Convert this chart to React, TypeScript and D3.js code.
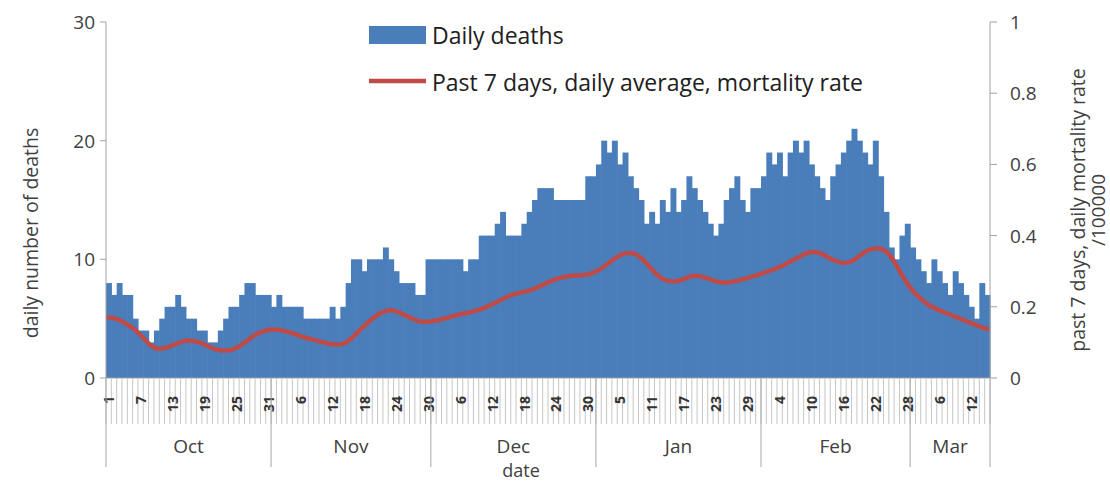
import * as d3 from 'd3';

// daily deaths per month (Oct 1 -> Mar 15)
const octDeaths = [8, 7, 8, 7, 7, 5, 4, 4, 3, 4, 5, 6, 6, 7, 6, 5, 5, 4, 4, 3, 3, 4, 5, 6, 6, 7, 8, 8, 7, 7, 7];
const novDeaths = [6, 7, 6, 6, 6, 6, 5, 5, 5, 5, 5, 6, 5, 6, 8, 10, 10, 9, 10, 10, 10, 11, 10, 9, 8, 8, 8, 7, 7, 10];
const decDeaths = [10, 10, 10, 10, 10, 10, 9, 10, 10, 12, 12, 12, 13, 14, 12, 12, 12, 13, 14, 15, 16, 16, 16, 15, 15, 15, 15, 15, 15, 17, 17];
const janDeaths = [18, 20, 19, 20, 18, 19, 17, 16, 15, 13, 14, 13, 15, 14, 16, 14, 15, 17, 16, 15, 14, 13, 12, 13, 15, 16, 17, 15, 14, 16, 16];
const febDeaths = [17, 19, 18, 19, 17, 19, 20, 19, 20, 18, 17, 16, 15, 17, 18, 19, 20, 21, 20, 19, 18, 20, 17, 14, 11, 10, 12, 13];
const marDeaths = [11, 10, 9, 8, 10, 9, 8, 7, 9, 8, 7, 6, 5, 8, 7];

// past 7 days daily average mortality rate /100000
const octRate = [0.17, 0.168, 0.163, 0.155, 0.145, 0.135, 0.12, 0.105, 0.09, 0.083, 0.083, 0.086, 0.092, 0.098, 0.103, 0.105, 0.104, 0.1, 0.094, 0.087, 0.081, 0.078, 0.077, 0.079, 0.085, 0.094, 0.105, 0.116, 0.125, 0.131, 0.135];
const novRate = [0.136, 0.135, 0.132, 0.128, 0.123, 0.118, 0.113, 0.109, 0.105, 0.101, 0.098, 0.095, 0.094, 0.096, 0.104, 0.117, 0.132, 0.146, 0.16, 0.172, 0.182, 0.188, 0.19, 0.187, 0.181, 0.174, 0.167, 0.161, 0.158, 0.158];
const decRate = [0.16, 0.163, 0.167, 0.171, 0.175, 0.179, 0.182, 0.185, 0.189, 0.194, 0.2, 0.207, 0.214, 0.222, 0.229, 0.235, 0.239, 0.242, 0.246, 0.251, 0.258, 0.265, 0.272, 0.278, 0.282, 0.285, 0.287, 0.288, 0.289, 0.291, 0.296];
const janRate = [0.303, 0.313, 0.324, 0.335, 0.344, 0.35, 0.351, 0.347, 0.337, 0.322, 0.305, 0.29, 0.279, 0.273, 0.271, 0.273, 0.278, 0.284, 0.287, 0.286, 0.282, 0.277, 0.272, 0.269, 0.268, 0.27, 0.273, 0.277, 0.281, 0.286, 0.29];
const febRate = [0.295, 0.3, 0.306, 0.312, 0.319, 0.327, 0.335, 0.343, 0.35, 0.354, 0.353, 0.348, 0.34, 0.332, 0.326, 0.323, 0.325, 0.332, 0.343, 0.354, 0.361, 0.364, 0.363, 0.355, 0.338, 0.314, 0.288, 0.265];
const marRate = [0.245, 0.229, 0.216, 0.205, 0.197, 0.19, 0.184, 0.178, 0.172, 0.166, 0.16, 0.154, 0.148, 0.142, 0.137];

const monthNames = ['Oct', 'Nov', 'Dec', 'Jan', 'Feb', 'Mar'];
const leftTicks = [0, 10, 20, 30];
const rightTicks = [0, 0.2, 0.4, 0.6, 0.8, 1];
const startDate = new Date(2020, 9, 1);

const FONT = '"Open Sans", Lato, sans-serif';
const TXT = '#404040';
const BLUE = '#4a7ebb';
const RED = '#be4b48';

export default function App() {
  const width = 1110;
  const height = 481;
  const left = 106, right = 990, top = 22, bottom = 378;

  const monthDeaths = [octDeaths, novDeaths, decDeaths, janDeaths, febDeaths, marDeaths];
  const deaths = monthDeaths.flat();
  const rates = [octRate, novRate, decRate, janRate, febRate, marRate].flat();
  const dates = deaths.map((_, i) => d3.timeDay.offset(startDate, i));

  const x = d3.scaleBand<number>().domain(d3.range(deaths.length)).range([left, right]).padding(0);
  const bw = x.bandwidth();
  const yL = d3.scaleLinear().domain([0, 30]).range([bottom, top]);
  const yR = d3.scaleLinear().domain([0, 1]).range([bottom, top]);

  const line = d3.line<number>()
    .x((_, i) => x(i)! + bw / 2)
    .y(d => yR(d))
    .curve(d3.curveCatmullRom.alpha(0.5));

  // month groups from the array lengths
  let acc = 0;
  const months = monthDeaths.map((arr, k) => {
    const start = acc;
    acc += arr.length;
    return { name: monthNames[k], start, end: acc };
  });
  const xEdge = (i: number) => (i >= deaths.length ? right : x(i)!);

  return (
    <svg width={width} height={height} style={{ position: 'absolute', left: 0, top: 0, background: '#fff' }}
      fontFamily={FONT}>
      <rect width={width} height={height} fill="#fff" />

      {/* bars */}
      <g>
        {deaths.map((d, i) => (
          <rect key={i} x={x(i)} y={yL(d)} width={bw + 0.6} height={bottom - yL(d)} fill={BLUE} />
        ))}
      </g>

      {/* 7-day rate line */}
      <path d={line(rates) ?? ''} fill="none" stroke={RED} strokeWidth={4.5} strokeLinejoin="round" strokeLinecap="round" />

      {/* left axis */}
      <line x1={left} x2={left} y1={top} y2={bottom} stroke="#a0a0a0" />
      {leftTicks.map(t => (
        <g key={t}>
          <line x1={left - 6} x2={left} y1={yL(t)} y2={yL(t)} stroke="#a0a0a0" />
          <text x={left - 11} y={yL(t)} textAnchor="end" dominantBaseline="central" fontSize={19} fill={TXT}>{t}</text>
        </g>
      ))}
      <text transform={`translate(30,233) rotate(-90)`} textAnchor="middle" dominantBaseline="central" fontSize={19.5} fill={TXT}>
        daily number of deaths
      </text>

      {/* right axis */}
      <line x1={right} x2={right} y1={top} y2={bottom} stroke="#a0a0a0" />
      {rightTicks.map(t => (
        <g key={t}>
          <line x1={right} x2={right + 7} y1={yR(t)} y2={yR(t)} stroke="#a0a0a0" />
          <text x={right + 20} y={yR(t)} dominantBaseline="central" fontSize={19} fill={TXT}>{t}</text>
        </g>
      ))}
      <text transform={`translate(1077,210) rotate(-90)`} textAnchor="middle" dominantBaseline="central" fontSize={19.5} fill={TXT}>
        past 7 days, daily mortality rate
      </text>
      <text transform={`translate(1098,210) rotate(-90)`} textAnchor="middle" dominantBaseline="central" fontSize={19} fill={TXT}>
        /100000
      </text>

      {/* x axis: day level */}
      <line x1={left} x2={right} y1={bottom} y2={bottom} stroke="#a0a0a0" />
      {d3.range(deaths.length + 1).map(i => (
        <line key={i} x1={xEdge(i)} x2={xEdge(i)} y1={bottom} y2={424} stroke="#c6c6c6" strokeWidth={1} />
      ))}
      {dates.map((dt, i) => i % 6 === 0 ? (
        <text key={i} transform={`translate(${x(i)! + bw / 2},396) rotate(-90)`} textAnchor="end"
          dominantBaseline="central" fontSize={14} fontWeight="bold" fill="#333">
          {dt.getDate()}
        </text>
      ) : null)}

      {/* x axis: month level */}
      {months.map(m => (
        <g key={m.name}>
          <line x1={xEdge(m.start)} x2={xEdge(m.start)} y1={bottom} y2={467} stroke="#a8a8a8" />
          <text x={(xEdge(m.start) + xEdge(m.end)) / 2} y={446} textAnchor="middle" dominantBaseline="central" fontSize={19} fill={TXT}>
            {m.name}
          </text>
        </g>
      ))}
      <line x1={right} x2={right} y1={bottom} y2={467} stroke="#a8a8a8" />
      <text x={521} y={470} textAnchor="middle" dominantBaseline="central" fontSize={18} fill={TXT}>date</text>

      {/* legend */}
      <rect x={369} y={26} width={57} height={18} fill={BLUE} />
      <text x={432} y={35} dominantBaseline="central" fontSize={23} fill="#202020">Daily deaths</text>
      <line x1={369} x2={426} y1={81} y2={81} stroke={RED} strokeWidth={4.5} />
      <text x={432} y={82} dominantBaseline="central" fontSize={23} fill="#202020">Past 7 days, daily average, mortality rate</text>
    </svg>
  );
}
